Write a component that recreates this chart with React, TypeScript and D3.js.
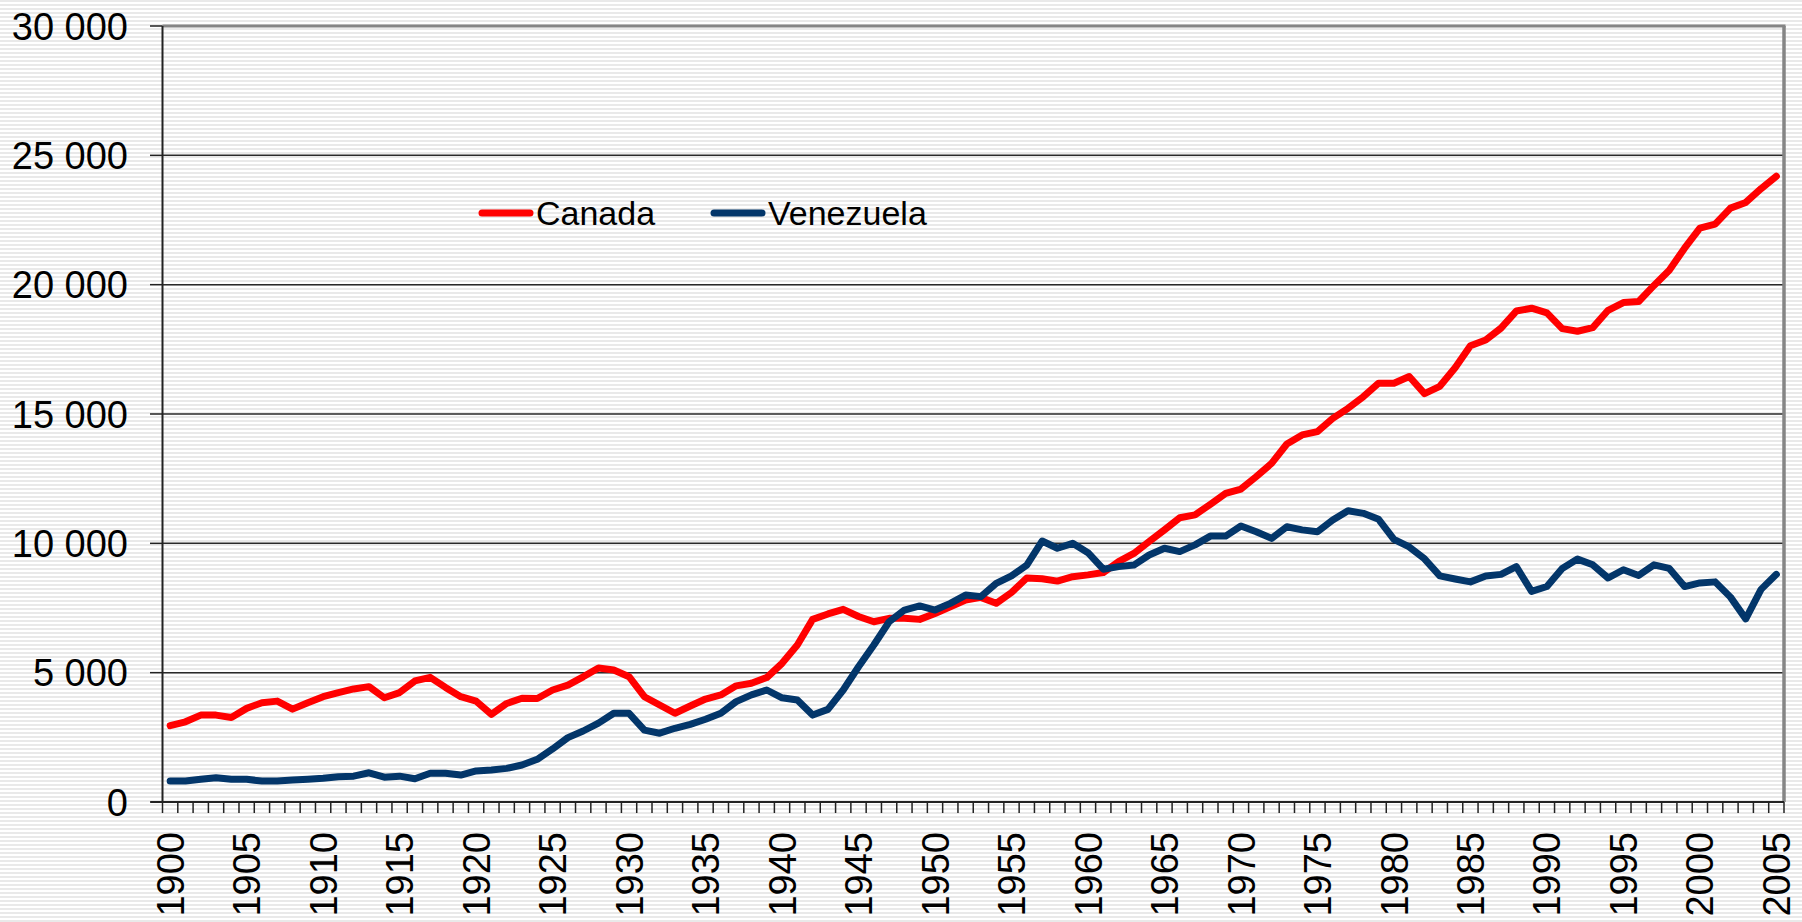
import React from "react";
import * as d3 from "d3";

const years: number[] = d3.range(1900, 2006);

const canada: number[] = [
  2950, 3100, 3360, 3360, 3270, 3620, 3840, 3900, 3590, 3840,
  4070, 4230, 4370, 4460, 4030, 4230, 4680, 4820, 4430, 4070,
  3900, 3390, 3810, 4010, 4000, 4330, 4520, 4840, 5180, 5100,
  4845, 4070, 3750, 3430, 3710, 3980, 4140, 4490, 4590, 4810,
  5360, 6070, 7060, 7270, 7450, 7170, 6970, 7100, 7100, 7060,
  7290, 7550, 7810, 7910, 7680, 8100, 8660, 8630, 8540, 8710,
  8780, 8870, 9290, 9610, 10070, 10520, 10990, 11100, 11510, 11930,
  12100, 12580, 13090, 13840, 14190, 14320, 14830, 15220, 15670, 16190,
  16190, 16450, 15790, 16070, 16790, 17640, 17860, 18320, 18980, 19090,
  18910, 18300, 18200, 18340, 19010, 19310, 19350, 19970, 20560, 21410,
  22190, 22340, 22960, 23180, 23710, 24190,
];

const venezuela: number[] = [
  810, 810, 877, 940, 877, 877, 810, 810, 850, 877,
  915, 980, 1000, 1130, 960, 1000, 900, 1110, 1110, 1040,
  1200, 1240, 1300, 1430, 1650, 2050, 2490, 2745, 3050, 3430,
  3430, 2780, 2660, 2850, 3000, 3200, 3430, 3880, 4140, 4330,
  4030, 3940, 3360, 3580, 4330, 5230, 6070, 6970, 7420, 7580,
  7420, 7680, 8000, 7940, 8450, 8740, 9160, 10090, 9810, 10000,
  9640, 9000, 9100, 9160, 9550, 9810, 9680, 9940, 10280, 10280,
  10670, 10450, 10190, 10640, 10520, 10450, 10900, 11260, 11160, 10930,
  10150, 9860, 9400, 8740, 8620, 8510, 8740, 8800, 9100, 8140,
  8330, 9030, 9390, 9170, 8660, 8980, 8760, 9170, 9030, 8330,
  8470, 8510, 7920, 7080, 8220, 8800,
];

const yTicks: number[] = [0, 5000, 10000, 15000, 20000, 25000, 30000];
const xLabelYears: number[] = d3.range(1900, 2006, 5);
const seriesNames: string[] = ["Canada", "Venezuela"];
const seriesColors: string[] = ["#ff0000", "#03366a"];

const W = 1802;
const H = 922;
const left = 162.5;
const right = 1784;
const top = 26;
const bottom = 802;

const locale = d3.formatLocale({
  decimal: ",",
  thousands: " ",
  grouping: [3],
  currency: ["", ""],
});
const fmt = locale.format(",d");

export default function App() {
  const x = d3.scaleBand<number>().domain(years).range([left, right]).padding(0);
  const y = d3.scaleLinear().domain([0, 30000]).range([bottom, top]);
  const cx = (yr: number) => (x(yr) as number) + x.bandwidth() / 2;

  const line = d3
    .line<number>()
    .x((_, i) => cx(years[i]))
    .y((d) => y(d));

  const series = [canada, venezuela];
  const boundaries = d3.range(0, years.length + 1).map((i) => left + i * x.bandwidth());
  const font = "'Liberation Sans', Arial, sans-serif";
  const axisFont = 38;

  return (
    <svg
      width={W}
      height={H}
      style={{ position: "absolute", left: 0, top: 0, display: "block" }}
      fontFamily={font}
    >
      <defs>
        <pattern id="stripes" width={8} height={4} patternUnits="userSpaceOnUse">
          <rect x={0} y={0} width={8} height={4} fill="#ffffff" />
          <rect x={0} y={0} width={8} height={2} fill="#e9e9e9" />
        </pattern>
      </defs>
      <rect x={0} y={0} width={W} height={H} fill="url(#stripes)" />

      {/* gridlines */}
      {yTicks
        .filter((t) => t > 0 && t < 30000)
        .map((t) => (
          <line key={t} x1={left} x2={right} y1={y(t)} y2={y(t)} stroke="#2a2a2a" strokeWidth={1.5} />
        ))}

      {/* plot border (top/right) */}
      <line x1={left} x2={right + 1.5} y1={top} y2={top} stroke="#858585" strokeWidth={3} />
      <line x1={right} x2={right} y1={top} y2={bottom} stroke="#858585" strokeWidth={3.5} />

      {/* series */}
      {series.map((s, i) => (
        <path
          key={seriesNames[i]}
          d={line(s) as string}
          fill="none"
          stroke={seriesColors[i]}
          strokeWidth={7}
          strokeLinejoin="round"
          strokeLinecap="round"
        />
      ))}

      {/* y axis */}
      <line x1={left} x2={left} y1={top} y2={bottom} stroke="#222" strokeWidth={2} />
      {yTicks.map((t) => (
        <g key={t}>
          <line x1={150} x2={left} y1={y(t)} y2={y(t)} stroke="#222" strokeWidth={1.5} />
          <text x={128} y={y(t) + 13.6} textAnchor="end" fontSize={axisFont} fill="#000">
            {fmt(t)}
          </text>
        </g>
      ))}

      {/* x axis */}
      <line x1={left - 12} x2={right} y1={bottom} y2={bottom} stroke="#222" strokeWidth={2} />
      {boundaries.map((bx, i) => (
        <line key={i} x1={bx} x2={bx} y1={bottom} y2={bottom + 11} stroke="#222" strokeWidth={1.5} />
      ))}
      {xLabelYears.map((yr) => (
        <text
          key={yr}
          transform={`translate(${cx(yr) + 13.6},832) rotate(-90)`}
          textAnchor="end"
          fontSize={axisFont}
          fill="#000"
        >
          {yr}
        </text>
      ))}

      {/* legend */}
      {seriesNames.map((n, i) => {
        const lx = i === 0 ? 482 : 714;
        return (
          <g key={n}>
            <line
              x1={lx}
              x2={lx + 48}
              y1={213}
              y2={213}
              stroke={seriesColors[i]}
              strokeWidth={7}
              strokeLinecap="round"
            />
            <text x={lx + 54} y={225} fontSize={34} fill="#000">
              {n}
            </text>
          </g>
        );
      })}
    </svg>
  );
}
